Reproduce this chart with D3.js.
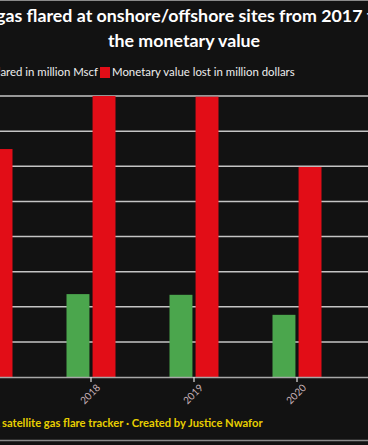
<!DOCTYPE html>
<html>
<head>
<meta charset="utf-8">
<script src="https://cdn.jsdelivr.net/npm/d3@7"></script>
<style>
  body { margin: 0; background: #121212; overflow: hidden; }
  svg { display: block; font-family: Lato, "Open Sans", sans-serif; }
</style>
</head>
<body>
<div id="chart"></div>
<script>
const years = ["2017", "2018", "2019", "2020"]
const keys = ["flared", "value"]
const flared = [191, 236, 234, 177]
const value = [649, 800, 798, 598]
const legendLabels = ["Gas flared in million Mscf", "Monetary value lost in million dollars"]
const yTicks = [0, 100, 200, 300, 400, 500, 600, 700, 800]
const titleLines = ["Volume of gas flared at onshore/offshore sites from 2017 to 2020 and", "the monetary value"]
const titleVisible = "gas flared at onshore/offshore sites from 2017 to 2020 and"
const footer = "Source: NOSDRA satellite gas flare tracker · Created by Justice Nwafor"
const footerVisible = "satellite gas flare tracker · Created by Justice Nwafor"

const data = years.map((y, i) => ({year: y, flared: flared[i], value: value[i]}))

const width = 368
const height = 445

const svg = d3.select("#chart")
    .append("svg")
    .attr("width", width)
    .attr("height", height)

svg.append("rect")
    .attr("width", width)
    .attr("height", height)
    .attr("fill", "#121212")

// frame lines top / bottom
svg.append("line")
    .attr("x1", 0).attr("x2", width)
    .attr("y1", 0.5).attr("y2", 0.5)
    .attr("stroke", "#8a8a8a")
svg.append("line")
    .attr("x1", 0).attr("x2", width)
    .attr("y1", 440.5).attr("y2", 440.5)
    .attr("stroke", "#8a8a8a")
    .attr("stroke-width", 1.5)

// width of a piece of text, used to line up the cropped texts
function textWidth(str, size, weight) {
    const t = svg.append("text")
        .attr("font-size", size)
        .attr("font-weight", weight)
        .text(str)
    const w = t.node().getComputedTextLength()
    t.remove()
    return w
}

const color = d3.scaleOrdinal()
    .domain(keys)
    .range(["#4ba64d", "#e20d17"])

// plot area runs past both edges of the cropped view
const x0 = d3.scaleBand()
    .domain(years)
    .range([-115, 400])
    .paddingInner(0)
    .paddingOuter(0.5)

const x1 = d3.scaleBand()
    .domain(keys)
    .range([-24.5, 24.5])
    .paddingInner(0.12)

const y = d3.scaleLinear()
    .domain([0, 800])
    .range([377, 96])

const plot = svg.append("g")

// gridlines
plot.append("g")
    .selectAll("line")
    .data(yTicks.slice(1))
    .join("line")
    .attr("x1", -115)
    .attr("x2", 400)
    .attr("y1", d => y(d))
    .attr("y2", d => y(d))
    .attr("stroke", "#c4c4c4")
    .attr("stroke-width", 1.5)

// bars
plot.append("g")
    .selectAll("g")
    .data(data)
    .join("g")
    .attr("transform", d => `translate(${x0(d.year) + x0.bandwidth() / 2},0)`)
    .selectAll("rect")
    .data(d => keys.map(k => ({key: k, v: d[k]})))
    .join("rect")
    .attr("x", d => x1(d.key))
    .attr("width", x1.bandwidth())
    .attr("y", d => y(d.v))
    .attr("height", d => y(0) - y(d.v))
    .attr("fill", d => color(d.key))

// x axis
const xAxis = d3.axisBottom(x0).tickSize(5).tickSizeOuter(0)
const gx = plot.append("g")
    .attr("transform", "translate(0,377)")
    .call(xAxis)
gx.select(".domain")
    .attr("stroke", "#a8a8a8")
    .attr("stroke-width", 1.5)
gx.selectAll(".tick line")
    .attr("stroke", "#e0e0e0")
    .attr("stroke-width", 1.2)
gx.selectAll(".tick text")
    .attr("fill", "#c9b3b9")
    .attr("font-size", 10)
    .attr("font-family", "Lato, sans-serif")
    .attr("text-anchor", "end")
    .attr("dx", "0.25em")
    .attr("dy", "0.35em")
    .attr("transform", "translate(0,5) rotate(-45)")

// title: first line is cropped, so line up "gas" with the left edge
const titleSize = 17.8
const titleShift = textWidth(titleLines[0], titleSize, "bold") - textWidth(titleVisible, titleSize, "bold")
svg.append("text")
    .attr("x", 2 - titleShift - 6)
    .attr("y", 22)
    .attr("fill", "#ffffff")
    .attr("font-weight", "bold")
    .attr("font-size", titleSize)
    .text(titleLines[0])
svg.append("text")
    .attr("x", 184)
    .attr("y", 47)
    .attr("text-anchor", "middle")
    .attr("fill", "#ffffff")
    .attr("font-weight", "bold")
    .attr("font-size", titleSize)
    .text(titleLines[1])

// legend, placed so the second item starts at x = 100
const legendSize = 11.4
const legend = svg.append("g").attr("font-size", legendSize).attr("fill", "#eeeeee")
const sq = 10
const item2 = legend.append("g").attr("transform", "translate(100,0)")
item2.append("rect")
    .attr("y", 67).attr("width", sq).attr("height", sq + 1)
    .attr("fill", color("value"))
item2.append("text")
    .attr("x", sq + 2).attr("y", 76)
    .text(legendLabels[1])
const item1 = legend.append("g")
item1.append("rect")
    .attr("y", 67).attr("width", sq).attr("height", sq + 1)
    .attr("fill", color("flared"))
const t1 = item1.append("text")
    .attr("x", sq + 2).attr("y", 76)
    .text(legendLabels[0])
const w1 = t1.node().getComputedTextLength()
item1.attr("transform", `translate(${100 - 2 - w1 - sq - 2},0)`)

// footer, "satellite" starts at the left edge
const footSize = 11.2
const footShift = textWidth(footer, footSize, "bold") - textWidth(footerVisible, footSize, "bold")
svg.append("text")
    .attr("x", 2 - footShift)
    .attr("y", 427)
    .attr("fill", "#e8cf00")
    .attr("font-weight", "bold")
    .attr("font-size", footSize)
    .text(footer)
</script>
</body>
</html>
